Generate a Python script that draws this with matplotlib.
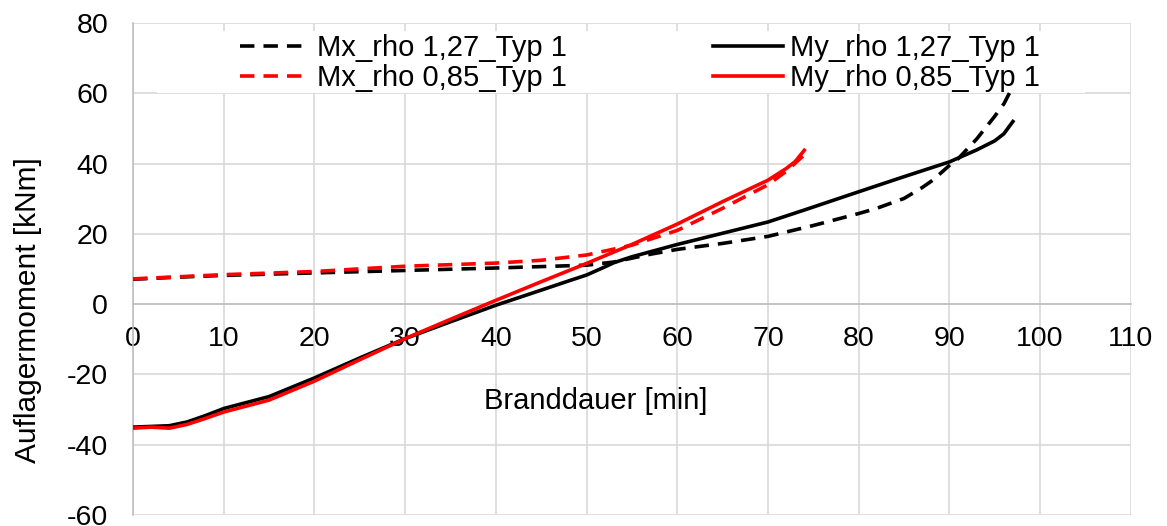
import matplotlib.pyplot as plt
from matplotlib.patches import Rectangle

plt.rcParams['font.family'] = ['Liberation Sans', 'DejaVu Sans']
plt.rcParams['axes.unicode_minus'] = False

# Mx_rho 1,27_Typ 1 (black dashed)
t_mx127 = [0, 5, 10, 20, 30, 40, 50, 53, 57, 60, 65, 70, 75, 80, 82, 85, 87, 88, 89, 90, 91, 93, 95, 96, 96.8]
mx127 = [7.1, 7.7, 8.2, 8.9, 9.6, 10.3, 11.1, 12.0, 14.2, 15.6, 17.3, 19.3, 22.4, 25.8, 27.3, 30.1, 33.2, 35.0, 37.2, 39.5, 41.5, 47.0, 53.5, 57.0, 61.0]

# Mx_rho 0,85_Typ 1 (red dashed)
t_mx085 = [0, 10, 20, 30, 40, 45, 50, 55, 60, 65, 70, 72, 74]
mx085 = [7.2, 8.4, 9.3, 10.8, 11.7, 12.5, 14.0, 16.8, 21.0, 27.3, 34.0, 37.8, 42.5]

# My_rho 1,27_Typ 1 (black solid)
t_my127 = [0, 2, 4, 6, 8, 10, 15, 20, 25, 30, 35, 40, 45, 48, 50, 52, 53, 55, 60, 65, 70, 74, 80, 85, 90, 93, 95, 96, 97]
my127 = [-35.0, -34.8, -34.6, -33.5, -31.7, -29.7, -26.3, -21.0, -15.3, -9.8, -5.0, -0.3, 4.0, 6.6, 8.3, 10.6, 11.8, 13.5, 17.0, 20.2, 23.4, 26.8, 32.0, 36.3, 40.5, 43.9, 46.5, 48.5, 52.0]

# My_rho 0,85_Typ 1 (red solid)
t_my085 = [0, 2, 4, 6, 8, 10, 15, 20, 25, 30, 35, 40, 45, 50, 55, 60, 65, 70, 72, 73, 74]
my085 = [-35.3, -35.0, -35.3, -34.2, -32.5, -30.7, -27.3, -21.9, -15.8, -9.8, -4.3, 1.1, 6.4, 11.6, 17.0, 22.8, 29.2, 35.3, 38.6, 40.6, 43.8]

fig = plt.figure(figsize=(11.67, 5.26), dpi=100)
ax = fig.add_axes([0.114, 0.021, 0.855, 0.935])

lw = 2.6
ax.plot(t_mx127, mx127, color='black', lw=lw, dashes=(4, 2.5), label='Mx_rho 1,27_Typ 1', zorder=3)
ax.plot(t_mx085, mx085, color='red', lw=lw, dashes=(4, 2.5), label='Mx_rho 0,85_Typ 1', zorder=4)
ax.plot(t_my127, my127, color='black', lw=lw, label='My_rho 1,27_Typ 1', zorder=3)
ax.plot(t_my085, my085, color='red', lw=lw, label='My_rho 0,85_Typ 1', zorder=4)

ax.set_xlim(0, 110)
ax.set_ylim(-60, 80)
ax.set_xticks(range(0, 111, 10))
ax.set_yticks(range(-60, 81, 20))

# grid and spines in light grey, x axis sits at y = 0
ax.set_axisbelow(True)
ax.grid(True, color='#d9d9d9', lw=1.2)
for s in ['top', 'right']:
    ax.spines[s].set_visible(False)
ax.spines['bottom'].set_position(('data', 0))
ax.spines['bottom'].set_color('#bfbfbf')
ax.spines['left'].set_color('#bfbfbf')
ax.spines['bottom'].set_linewidth(1.2)
ax.spines['left'].set_linewidth(1.2)
ax.tick_params(axis='both', length=0, labelsize=20.5)
ax.tick_params(axis='y', pad=18)
ax.tick_params(axis='x', pad=16)

# white box behind the legend hides the grid
ax.add_patch(Rectangle((2.6, 60.1), 102.4, 17.7, facecolor='white', edgecolor='none', zorder=1))

ax.legend(loc='center', bbox_to_anchor=(0.508, 0.919), ncol=2, frameon=False,
          fontsize=21, handlelength=2.4, handletextpad=0.25, columnspacing=5.0,
          labelspacing=0.08, borderpad=0)

ax.text(51, -27.5, 'Branddauer [min]', fontsize=21, ha='center', va='center')
fig.text(0.024, 0.41, 'Auflagermoment [kNm]', fontsize=21.5, rotation=90, ha='center', va='center')

fig.savefig('out.png', dpi=100)
